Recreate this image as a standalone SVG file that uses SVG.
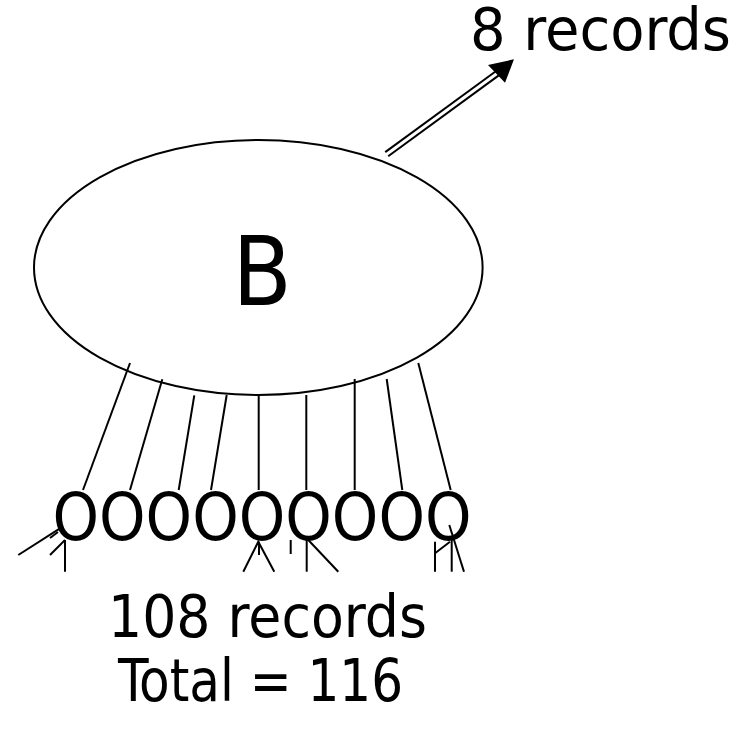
<svg xmlns="http://www.w3.org/2000/svg" width="751" height="731" viewBox="0 0 751 731">
  <style>
    .t { font-family: "DejaVu Sans Condensed", "DejaVu Sans", "Liberation Sans", sans-serif; fill: #000; }
    .ln { stroke: #000; stroke-width: 2; fill: none; stroke-linecap: butt; }
  </style>
  <rect width="751" height="731" fill="#fff"/>
  <g id="node-B">
    <ellipse cx="258.3" cy="267.5" rx="224.3" ry="127.5" fill="#fff" stroke="#000" stroke-width="2"/>
    <text class="t" x="262" y="305" font-size="96" text-anchor="middle">B</text>
  </g>
  <g id="node-children">
    <text class="t" x="52.5" y="540" font-size="66" textLength="419" lengthAdjust="spacingAndGlyphs">OOOOOOOOO</text>
  </g>
  <g id="label-8">
    <text class="t" x="470" y="50" font-size="58" textLength="261" lengthAdjust="spacingAndGlyphs">8 records</text>
  </g>
  <g id="label-108">
    <text class="t" x="108" y="637" font-size="58" textLength="319" lengthAdjust="spacingAndGlyphs">108 records</text>
  </g>
  <g id="label-total">
    <text class="t" x="118" y="701" font-size="58" textLength="285" lengthAdjust="spacingAndGlyphs">Total = 116</text>
  </g>
  <g id="connectors">
    <line class="ln" x1="130" y1="363" x2="83" y2="490"/>
    <line class="ln" x1="162.3" y1="379.3" x2="130" y2="490"/>
    <line class="ln" x1="194.3" y1="395.3" x2="178.7" y2="490"/>
    <line class="ln" x1="226.7" y1="395" x2="211" y2="490"/>
    <line class="ln" x1="258.7" y1="395" x2="258.7" y2="490"/>
    <line class="ln" x1="306.3" y1="395" x2="306.3" y2="490"/>
    <line class="ln" x1="354.7" y1="379" x2="354.7" y2="490"/>
    <line class="ln" x1="386.7" y1="379" x2="402.3" y2="490"/>
    <line class="ln" x1="418.3" y1="363" x2="450.7" y2="490"/>

    <line class="ln" x1="18.3" y1="555" x2="60" y2="528.3"/>
    <line class="ln" x1="50" y1="538" x2="58" y2="532"/>
    <line class="ln" x1="50" y1="555" x2="65" y2="540"/>
    <line class="ln" x1="65" y1="540" x2="65" y2="571.7"/>

    <polyline class="ln" points="243.3,571.7 258.3,541.7 274.3,571.7"/>
    <line class="ln" x1="259" y1="541.7" x2="259" y2="555"/>
    <line class="ln" x1="290.7" y1="540" x2="290.7" y2="554"/>
    <line class="ln" x1="306.7" y1="540" x2="306.7" y2="571.7"/>
    <line class="ln" x1="308.3" y1="540" x2="338.3" y2="571.7"/>

    <line class="ln" x1="435" y1="541.7" x2="435" y2="571.7"/>
    <line class="ln" x1="435" y1="553.3" x2="450" y2="541.7"/>
    <line class="ln" x1="451.7" y1="540" x2="451.7" y2="571.7"/>
    <line class="ln" x1="449.3" y1="525" x2="464" y2="571.7"/>

    <line x1="386.7" y1="154.2" x2="498" y2="72.8" stroke="#000" stroke-width="7"/>
    <line x1="385" y1="155.5" x2="499" y2="72" stroke="#fff" stroke-width="3"/>
    <polygon points="514,59.3 488,65 505,82.7" fill="#000"/>
  </g>
</svg>
